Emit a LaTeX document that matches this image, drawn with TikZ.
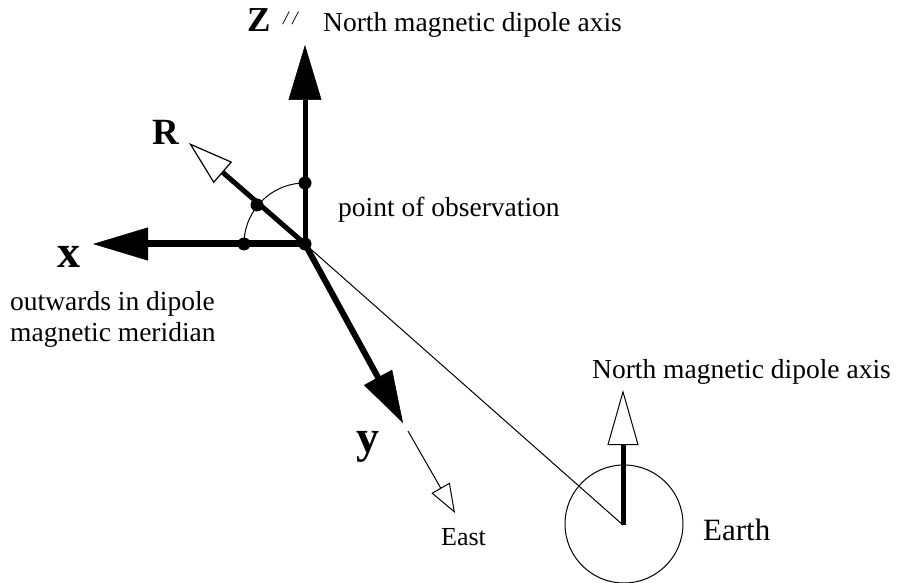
\documentclass[tikz,border=0pt]{standalone}
\usepackage{fontspec}
\setmainfont{Liberation Serif}
\usetikzlibrary{arrows.meta}
\tikzset{
  lbl/.style={inner sep=0pt, anchor=base west, font=\fontsize{27.5}{31}\selectfont},
  boldlbl/.style={inner sep=0pt, anchor=base west, font=\fontsize{#1}{#1}\selectfont\bfseries},
  axisline/.style={line width=#1, line cap=butt},
  fillhead/.style={-{Triangle[length=55pt,width=33pt,line width=0.5pt]}},
  openhead/.style={-{Triangle[open,length=55pt,width=31pt,line width=1pt]}},
  thinline/.style={line width=1pt},
  dot/.style={circle, fill=black, inner sep=0pt, minimum size=13pt}
}
\begin{document}
\begin{tikzpicture}[x=1pt,y=-1pt]
\useasboundingbox (0,0) rectangle (898,583);
% coordinates
\coordinate (O) at (305,244);
\coordinate (Ztip) at (305,45);
\coordinate (Xtip) at (93,244);
\coordinate (Rtip) at (189,143);
\coordinate (Ytip) at (403,423);
\coordinate (Es) at (408,431);
\coordinate (Et) at (455,513);
\coordinate (Ec) at (623,525);
\coordinate (Eaxis) at (623,390);
% Earth
\node[draw, thinline, circle, inner sep=0pt, minimum size=118pt] (earth) at (624,524) {};
% thin line to earth
\draw[thinline] (O) -- (Ec);
% arc
\draw[thinline] (244,244) arc[start angle=180, end angle=90, radius=61pt];
% axes
\draw[axisline=5pt, fillhead] (O) -- (Ztip);
\draw[axisline=7pt, fillhead] (O) -- (Xtip);
\draw[axisline=6pt, -{Triangle[length=52pt,width=32pt,line width=0.5pt]}] (O) -- (Ytip);
\draw[axisline=5pt, -{Triangle[open,length=45pt,width=28pt,line width=1.2pt]}] (O) -- (Rtip);
\draw[thinline, -{Triangle[open,length=29pt,width=21pt,line width=1pt]}] (Es) -- (Et);
\draw[axisline=5pt, openhead] (Ec) -- (Eaxis);
% dots
\node[dot] (d0) at (O) {};
\node[dot] (d1) at (305,183) {};
\node[dot] (d2) at (257,205) {};
\node[dot] (d3) at (244,244) {};
% labels
\node[boldlbl=35] (zl) at (247,32) {Z};
\node[inner sep=0pt, anchor=base west, font=\fontsize{19}{19}\selectfont\itshape] (par) at (283,25) {/\hspace{4pt}/};
\node[lbl] (ntop) at (323,32) {North magnetic dipole axis};
\node[lbl] (obs) at (338,217) {point of observation};
\node[boldlbl=37] (rl) at (152,145) {R};
\node[boldlbl=46] (xl) at (57,267) {x};
\node[boldlbl=46] (yl) at (356,452) {y};
\node[lbl] (out1) at (10,310) {outwards in dipole};
\node[lbl] (out2) at (10,341) {magnetic meridian};
\node[lbl] (nbot) at (592,378) {North magnetic dipole axis};
\node[inner sep=0pt, anchor=base west, font=\fontsize{31}{31}\selectfont] (el) at (703,540) {Earth};
\node[inner sep=0pt, anchor=base west, font=\fontsize{26}{26}\selectfont] (east) at (441,545) {East};
\end{tikzpicture}
\end{document}
